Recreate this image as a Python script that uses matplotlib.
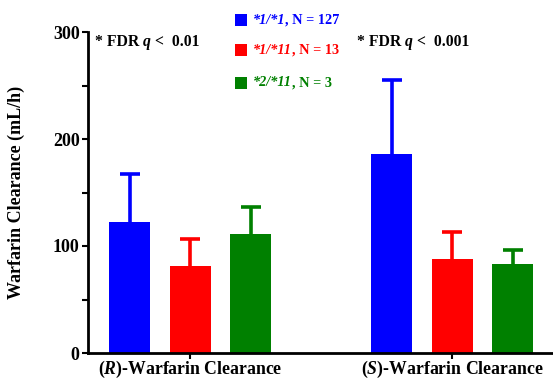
import matplotlib
matplotlib.use("Agg")
import matplotlib.pyplot as plt
import numpy as np
from matplotlib.offsetbox import TextArea, HPacker, DrawingArea, AnnotationBbox
from matplotlib.patches import Rectangle

plt.rcParams['font.family'] = ['Liberation Serif', 'DejaVu Serif']
plt.rcParams['font.weight'] = 'bold'
plt.rcParams['mathtext.fontset'] = 'custom'
plt.rcParams['mathtext.rm'] = 'Liberation Serif:bold'
plt.rcParams['mathtext.it'] = 'Liberation Serif:bold:italic'
plt.rcParams['mathtext.bf'] = 'Liberation Serif:bold'

groups = ["($\\mathit{R}$)-Warfarin Clearance", "($\\mathit{S}$)-Warfarin Clearance"]
genotypes = ["*1/*1", "*1/*11", "*2/*11"]
counts = ["N = 127", "N = 13", "N = 3"]
colors = ["#0000FF", "#FF0000", "#008000"]
means = {
    "*1/*1": [122, 186],
    "*1/*11": [81, 88],
    "*2/*11": [111, 83],
}
sds = {
    "*1/*1": [45, 69],
    "*1/*11": [26, 25],
    "*2/*11": [25, 13],
}
fdr_texts = ["0.01", "0.001"]

fig = plt.figure(figsize=(5.53, 3.82), dpi=100)
ax = fig.add_axes([88/553, 29/382, 1 - 88/553, (353-32)/382])

x = np.arange(len(groups))
offsets = [-0.231, 0.0, 0.231]
width = 0.156
for g, c, off in zip(genotypes, colors, offsets):
    ax.bar(x + off, means[g], width, color=c, zorder=2)
    ax.errorbar(x + off, means[g], yerr=sds[g],
                fmt='none', ecolor=c, elinewidth=2.6, capsize=7, capthick=2.6, zorder=1)

ax.set_xlim(-0.39, 1.385)
ax.set_ylim(0, 300)
ax.set_yticks([0, 100, 200, 300])
ax.set_yticks([50, 150, 250], minor=True)
ax.set_xticks(x)
ax.set_xticklabels(groups, fontsize=12.8, fontweight='bold')
for lab in ax.get_yticklabels():
    lab.set_fontsize(13)
    lab.set_fontweight('bold')
ax.tick_params(axis='y', which='major', length=4, width=1.5, pad=2)
ax.tick_params(axis='y', which='minor', length=4, width=1.5)
ax.tick_params(axis='x', which='major', length=4, width=1.5, pad=0)
ax.spines['top'].set_visible(False)
ax.spines['right'].set_visible(False)
ax.spines['left'].set_linewidth(2)
ax.spines['bottom'].set_linewidth(2)
ax.set_ylabel("Warfarin Clearance (mL/h)", fontsize=13, fontweight='bold')
ax.yaxis.set_label_coords(-0.135, 0.5)

def place(children, xy):
    box = HPacker(children=children, align='center', pad=0, sep=0)
    ab = AnnotationBbox(box, xy, xycoords='figure pixels', box_alignment=(0, 0.5),
                        frameon=False, pad=0)
    fig.add_artist(ab)

# FDR annotations
for xpix, val in zip([95, 357], fdr_texts):
    tp = dict(fontsize=11.3, fontweight='bold', color='black')
    tpi = dict(fontsize=11.3, fontweight='bold', style='italic', color='black')
    place([TextArea("* FDR ", textprops=tp), TextArea("q", textprops=tpi),
           TextArea(" <  " + val, textprops=tp)], (xpix, 382 - 42))

# Legend entries
for i, (g, n, c) in enumerate(zip(genotypes, counts, colors)):
    yc = 382 - [20, 50, 83][i]
    da = DrawingArea(8.6, 8.6, 0, 0)
    da.add_artist(Rectangle((0, 0), 8.6, 8.6, fc=c, ec='none'))
    sp = DrawingArea(4.3, 1, 0, 0)
    tpi = dict(fontsize=10.3, fontweight='bold', style='italic', color=c)
    tp = dict(fontsize=10.3, fontweight='bold', color=c)
    place([da, sp, TextArea(g, textprops=tpi), TextArea(", " + n, textprops=tp)], (235, yc))

fig.savefig("out.png", dpi=100)
